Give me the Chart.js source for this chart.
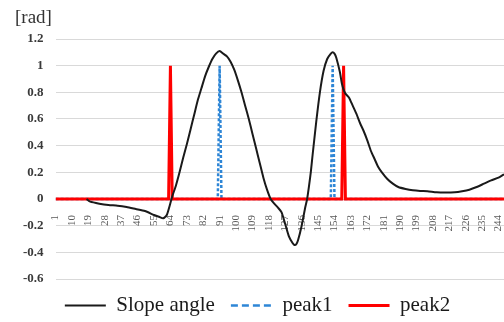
<!DOCTYPE html>
<html>
<head>
<meta charset="utf-8">
<script src="https://cdn.jsdelivr.net/npm/chart.js@4/dist/chart.umd.min.js"></script>
<style>
  html, body { margin: 0; padding: 0; background: #fff; }
  #wrap { position: relative; width: 504px; height: 322px; }
</style>
</head>
<body>
<div id="wrap"><canvas id="slope-chart"></canvas></div>
<script>
// x tick labels (every 9th sample)
const tickLabels = [1, 10, 19, 28, 37, 46, 55, 64, 73, 82, 91, 100, 109, 118, 127, 136, 145, 154, 163, 172, 181, 190, 199, 208, 217, 226, 235, 244];

// Slope angle [rad]
const slopeX = [18, 20, 25, 30, 35, 40, 45, 50, 55, 58, 60, 62, 64, 65, 67, 69, 71, 73, 75, 77, 79, 81, 83, 85, 87, 89, 91, 93, 95, 97, 99, 101, 103, 105, 107, 109, 111, 113, 115, 117, 119, 121, 123, 125, 127, 129, 131, 132, 133, 134, 136, 138, 139, 141, 142, 144, 146, 148, 150, 152, 153, 154, 155, 157, 158, 159, 160, 162, 164, 166, 168, 170, 172, 174, 176, 178, 180, 183, 186, 189, 193, 197, 201, 205, 210, 215, 220, 224, 228, 232, 236, 240, 244, 247];
const slopeY = [0, -0.02, -0.035, -0.045, -0.05, -0.06, -0.075, -0.09, -0.12, -0.135, -0.145, -0.12, -0.03, 0.02, 0.1, 0.2, 0.31, 0.41, 0.52, 0.63, 0.74, 0.83, 0.92, 0.99, 1.05, 1.09, 1.11, 1.09, 1.07, 1.03, 0.97, 0.89, 0.8, 0.7, 0.6, 0.49, 0.38, 0.27, 0.16, 0.07, 0, -0.035, -0.065, -0.1, -0.19, -0.28, -0.33, -0.345, -0.34, -0.31, -0.2, -0.06, 0, 0.2, 0.33, 0.58, 0.8, 0.96, 1.05, 1.09, 1.1, 1.09, 1.06, 0.95, 0.87, 0.82, 0.79, 0.76, 0.7, 0.64, 0.57, 0.51, 0.44, 0.36, 0.3, 0.24, 0.2, 0.15, 0.115, 0.09, 0.075, 0.065, 0.06, 0.058, 0.05, 0.048, 0.05, 0.058, 0.07, 0.09, 0.115, 0.14, 0.16, 0.185];

// peak markers (0 / 1)
const peak1X = [1, 90, 91, 92, 152, 153, 154, 247];
const peak1Y = [0, 0, 1, 0, 0, 1, 0, 0];
const peak2X = [1, 63, 64, 65, 158, 159, 160, 247];
const peak2Y = [0, 0, 1, 0, 0, 1, 0, 0];

const toPoints = (xs, ys) => xs.map((x, i) => ({ x, y: ys[i] }));

const serif = "'Liberation Serif', 'Times New Roman', serif";

// "[rad]" unit label above the y axis
const unitLabel = {
    id: 'unitLabel',
    afterDraw(chart) {
        const ctx = chart.ctx;
        ctx.save();
        ctx.font = "19px " + serif;
        ctx.fillStyle = '#333';
        ctx.textBaseline = 'alphabetic';
        ctx.fillText('[rad]', 15, 23);
        ctx.restore();
    }
};

const ctx = document.getElementById('slope-chart').getContext('2d');
new Chart(ctx, {
    type: 'line',
    data: {
        datasets: [
            {
                label: 'Slope angle',
                data: toPoints(slopeX, slopeY),
                borderColor: '#1a1a1a',
                borderWidth: 2,
                pointRadius: 0,
                tension: 0.2,
                order: 0
            },
            {
                label: 'peak1',
                data: toPoints(peak1X, peak1Y),
                borderColor: '#2e86d6',
                borderWidth: 2.5,
                borderDash: [3, 2],
                pointRadius: 0,
                tension: 0,
                order: 2
            },
            {
                label: 'peak2',
                data: toPoints(peak2X, peak2Y),
                borderColor: '#ff0000',
                borderWidth: 3,
                pointRadius: 0,
                tension: 0,
                order: 1
            }
        ]
    },
    options: {
        responsive: true,
        maintainAspectRatio: false,
        animation: false,
        layout: { padding: { left: 11, right: 0, top: 39, bottom: -4 } },
        scales: {
            x: {
                type: 'linear',
                min: 1,
                max: 247,
                position: { y: 0 },
                afterBuildTicks: axis => { axis.ticks = tickLabels.map(v => ({ value: v })); },
                // rotated labels should not shrink the plot
                afterFit: axis => { axis.paddingLeft = 0; axis.paddingRight = 0; },
                grid: { display: false },
                border: { display: false },
                ticks: {
                    autoSkip: false,
                    minRotation: 90,
                    maxRotation: 90,
                    padding: 8,
                    color: '#595959',
                    font: { family: serif, size: 11 }
                }
            },
            y: {
                min: -0.6,
                max: 1.2,
                grid: { color: '#d9d9d9', drawTicks: false },
                border: { display: false },
                ticks: {
                    stepSize: 0.2,
                    padding: 12,
                    color: '#3a3a3a',
                    font: { family: serif, size: 13, weight: 'bold' },
                    callback: v => String(Number(v.toFixed(1)))
                }
            }
        },
        plugins: {
            legend: {
                position: 'bottom',
                labels: {
                    usePointStyle: true,
                    pointStyle: 'line',
                    pointStyleWidth: 41,
                    padding: 16,
                    color: '#1a1a1a',
                    font: { family: serif, size: 21 },
                    // take line width / dash from the dataset, longer dashes like the original
                    generateLabels: chart => Chart.defaults.plugins.legend.labels.generateLabels(chart)
                        .map(item => {
                            const ds = chart.data.datasets[item.datasetIndex];
                            return { ...item, lineWidth: ds.borderWidth, lineDash: ds.borderDash ? [7, 4] : [] };
                        }),
                    sort: (a, b) => a.datasetIndex - b.datasetIndex
                }
            },
            tooltip: { enabled: false }
        }
    },
    plugins: [unitLabel]
});
</script>
</body>
</html>
